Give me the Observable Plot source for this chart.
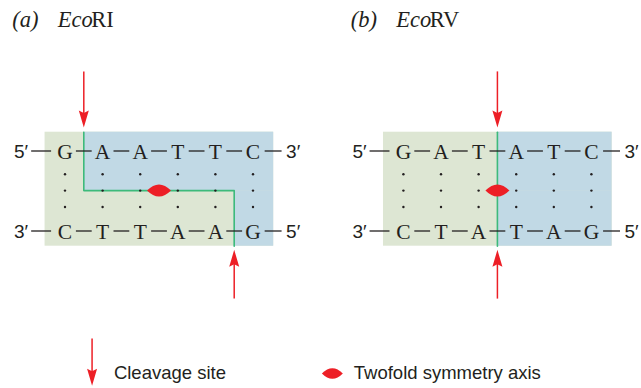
<!DOCTYPE html>
<html>
<head>
<meta charset="utf-8">
<script src="https://cdn.jsdelivr.net/npm/d3@7"></script>
<script src="https://cdn.jsdelivr.net/npm/@observablehq/plot@0.6"></script>
<style>
  html, body { margin: 0; padding: 0; background: #fff; }
  #chart svg { display: block; }
</style>
</head>
<body>
<div id="chart"></div>
<script>
// ---- data ----
const panelLabels = ["(a)", "(b)"];
const enzymePrefix = ["Eco", "Eco"];
const enzymeSuffix = ["RI", "RV"];
const topStrands = [["G","A","A","T","T","C"], ["G","A","T","A","T","C"]];
const bottomStrands = [["C","T","T","A","A","G"], ["C","T","A","T","A","G"]];
const topCut = [1, 3];      // cleavage after this many bases (top strand)
const bottomCut = [5, 3];   // cleavage after this many bases (bottom strand)
const symmetryAxis = [2.5, 2.5];
const legendLabels = ["Cleavage site", "Twofold symmetry axis"];

// ---- layout (diagram units) ----
const panelOffset = [0, 9];
const RED = "#ed1f26", INK = "#231f20";
const boxL = -0.53, boxR = 5.55, boxT = -0.5, boxB = 2.35, midY = 0.96;

const letters = [], dashes = [], ends = [], pairs = [], greens = [], blues = [], cutLine = [];
const shafts = [], heads = [], lenses = [], titles = [];
panelLabels.forEach((lab, p) => {
  const o = panelOffset[p];
  [[topStrands[p], 0, "5′", "3′"], [bottomStrands[p], 2, "3′", "5′"]].forEach(([seq, row, l, r]) => {
    seq.forEach((b, i) => {
      letters.push({x: o + i, y: row, t: b});
      if (i < seq.length - 1) dashes.push({x1: o + i + 0.29, x2: o + i + 0.71, y: row - 0.03});
    });
    dashes.push({x1: o - 0.9, x2: o - 0.37, y: row - 0.03});
    dashes.push({x1: o + seq.length - 1 + 0.31, x2: o + seq.length - 1 + 0.76, y: row - 0.03});
    ends.push({x: o - 0.98, y: row, t: l, a: "end"});
    ends.push({x: o + seq.length - 1 + 0.88, y: row, t: r, a: "start"});
  });
  topStrands[p].forEach((_, i) => [0.55, midY, 1.37].forEach(y => pairs.push({x: o + i, y})));
  greens.push({x1: o + boxL, x2: o + boxR, y1: boxT, y2: boxB});
  blues.push({x1: o + topCut[p] - 0.5, x2: o + boxR, y1: boxT, y2: midY});
  blues.push({x1: o + bottomCut[p] - 0.5, x2: o + boxR, y1: midY, y2: boxB});
  const tc = o + topCut[p] - 0.5, bc = o + bottomCut[p] - 0.5;
  [[tc, boxT], [tc, midY], [bc, midY], [bc, boxB]].forEach(([x, y]) => cutLine.push({x, y, p}));
  shafts.push({x: tc, y1: -2.02, y2: -0.9});
  heads.push({x: tc, y: -0.62, rot: 0});
  shafts.push({x: bc, y1: 3.66, y2: 2.7});
  heads.push({x: bc, y: 2.44, rot: 180});
  lenses.push({x: o + symmetryAxis[p], y: midY});
  titles.push({x: o, lab, pre: enzymePrefix[p], suf: enzymeSuffix[p]});
});
// legend
const legY = 5.53;
shafts.push({x: 0.72, y1: 4.66, y2: 5.6});
heads.push({x: 0.72, y: 5.84, rot: 0});
const legendText = [{x: 1.30, y: legY, t: legendLabels[0]}, {x: 7.68, y: legY, t: legendLabels[1]}];
const legendLens = [{x: 7.11, y: legY}];

// ---- custom symbols ----
const arrowHead = {draw(ctx) {
  ctx.moveTo(0, 0); ctx.lineTo(-5, -17); ctx.lineTo(0, -14.5); ctx.lineTo(5, -17); ctx.closePath();
}};
const lens = {draw(ctx, size) {
  const r = Math.sqrt(size / Math.PI);
  ctx.moveTo(-r, 0);
  ctx.quadraticCurveTo(0, -r, r, 0);
  ctx.quadraticCurveTo(0, r, -r, 0);
  ctx.closePath();
}};

const serif = "Liberation Serif";
const chart = Plot.plot({
  width: 641, height: 388, margin: 0,
  x: {domain: [-1.7154, 15.332], range: [0, 641], axis: null},
  y: {domain: [-3.7925, 5.9075], range: [0, 388], axis: null},
  marks: [
    Plot.rect(greens, {x1: "x1", x2: "x2", y1: "y1", y2: "y2", fill: "#dde6d3"}),
    Plot.rect(blues, {x1: "x1", x2: "x2", y1: "y1", y2: "y2", fill: "#c1d9e5"}),
    Plot.line(cutLine, {x: "x", y: "y", z: "p", stroke: "#3dba7b", strokeWidth: 1.6}),
    Plot.dot(pairs, {x: "x", y: "y", r: 1.2, fill: INK, stroke: null}),
    Plot.link(dashes, {x1: "x1", x2: "x2", y1: "y", y2: "y", stroke: INK, strokeWidth: 1.3}),
    Plot.text(letters, {x: "x", y: "y", text: "t", fontFamily: serif, fontSize: 21.5, fill: INK}),
    Plot.text(ends, {x: "x", y: "y", text: "t", textAnchor: "end", filter: d => d.a === "end", fontFamily: "Liberation Sans", fontSize: 19, fill: INK}),
    Plot.text(ends, {x: "x", y: "y", text: "t", textAnchor: "start", filter: d => d.a === "start", fontFamily: "Liberation Sans", fontSize: 19, fill: INK}),
    Plot.dot(lenses, {x: "x", y: "y", symbol: lens, r: 12, fill: RED, stroke: null}),
    Plot.link(shafts, {x1: "x", x2: "x", y1: "y1", y2: "y2", stroke: RED, strokeWidth: 1.5}),
    Plot.dot(heads, {x: "x", y: "y", symbol: arrowHead, rotate: "rot", r: 5, fill: RED, stroke: null}),
    Plot.text(titles, {x: d => d.x - 1.40, y: -3.3, text: "lab", textAnchor: "start", fontFamily: serif, fontStyle: "italic", fontSize: 22.5, fill: INK}),
    Plot.text(titles, {x: d => d.x - 0.19, y: -3.3, text: "pre", textAnchor: "start", fontFamily: serif, fontStyle: "italic", fontSize: 22.5, fill: INK}),
    Plot.text(titles, {x: d => d.x + 0.70, y: -3.3, text: "suf", textAnchor: "start", fontFamily: serif, fontSize: 22.5, fill: INK}),
    Plot.dot(legendLens, {x: "x", y: "y", symbol: lens, r: 10.5, fill: RED, stroke: null}),
    Plot.text(legendText, {x: "x", y: "y", text: "t", textAnchor: "start", fontFamily: "Liberation Sans", fontSize: 18.5, fill: INK})
  ]
});
document.getElementById("chart").appendChild(chart);
</script>
</body>
</html>
